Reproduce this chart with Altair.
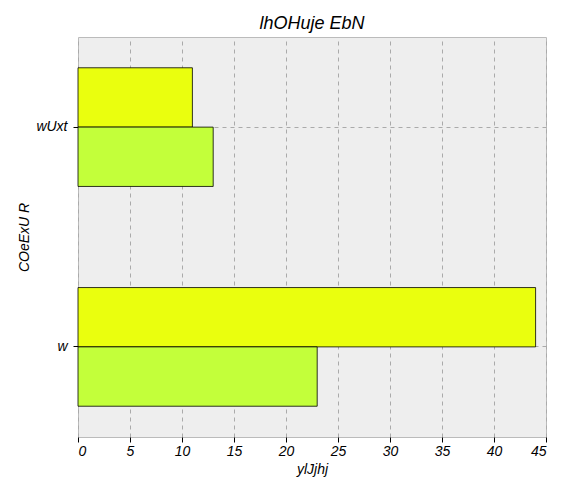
import pandas as pd
import altair as alt

categories = ["wUxt", "w"]
series = ["a", "b"]
values_a = [11, 44]
values_b = [13, 23]
colors = ["#eaff0e", "#c3ff3a"]

rows = []
for i, c in enumerate(categories):
    rows.append({"cat": c, "series": series[0], "value": values_a[i]})
    rows.append({"cat": c, "series": series[1], "value": values_b[i]})
df = pd.DataFrame(rows)

font = "Liberation Sans"

chart = alt.Chart(df).mark_bar(stroke="black", strokeWidth=0.8).encode(
    x=alt.X("value:Q", title="ylJjhj",
            scale=alt.Scale(domain=[0, 45], nice=False),
            axis=alt.Axis(values=list(range(0, 46, 5)), gridDash=[4, 4], gridColor="#aaaaaa",
                          tickColor="black", domain=False)),
    y=alt.Y("cat:N", title="COeExU R", sort=categories,
            scale=alt.Scale(paddingInner=0.46, paddingOuter=0.14),
            axis=alt.Axis(gridDash=[4, 4], gridColor="#aaaaaa", grid=True,
                          tickColor="black", domain=False, labelPadding=6)),
    yOffset=alt.YOffset("series:N", sort=series),
    color=alt.Color("series:N", scale=alt.Scale(domain=series, range=colors), legend=None),
).properties(
    width=468, height=400,
    padding={"left": 9, "top": 7, "right": 5, "bottom": 5},
    title=alt.Title("lhOHuje EbN", fontSize=18, fontStyle="italic", fontWeight="normal", font=font),
).configure_view(
    fill="#eeeeee", stroke="#bbbbbb"
).configure_axis(
    labelFont=font, titleFont=font, labelFontSize=14, titleFontSize=14,
    labelFontStyle="italic", titleFontStyle="italic", titleFontWeight="normal",
    labelColor="black", titleColor="black",
)

chart.save("out.html", embed_options={"renderer": "svg", "actions": False})
